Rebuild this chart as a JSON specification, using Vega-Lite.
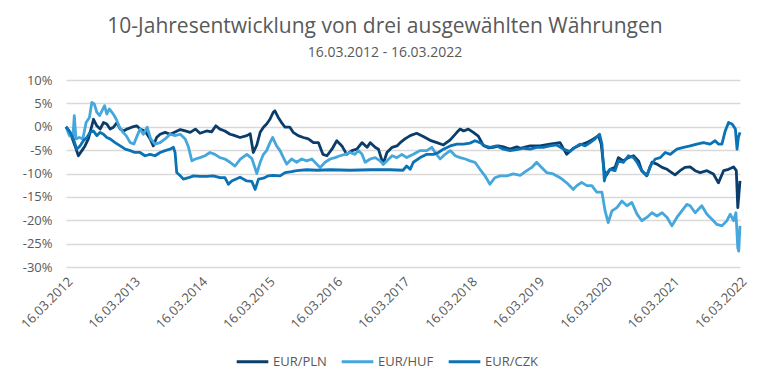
{
  "$schema": "https://vega.github.io/schema/vega-lite/v6.json",
  "width": 674,
  "height": 187,
  "autosize": {"type": "none"},
  "padding": {"left": 66, "top": 80, "right": 30, "bottom": 118},
  "background": "white",
  "title": {
    "text": "10-Jahresentwicklung von drei ausgewählten Währungen",
    "subtitle": "16.03.2012 - 16.03.2022",
    "fontSize": 21,
    "fontWeight": "normal",
    "color": "#595959",
    "subtitleFontSize": 14,
    "subtitleColor": "#595959",
    "anchor": "middle",
    "dx": -18,
    "offset": 14,
    "subtitlePadding": 9
  },
  "config": {
    "font": "Open Sans",
    "view": {"stroke": null}
  },
  "datasets": {
    "fx": [
      {"d":"2012-03-16","s":"EUR/PLN","v":0},
      {"d":"2012-04-07","s":"EUR/PLN","v":-1.2},
      {"d":"2012-05-04","s":"EUR/PLN","v":-4.1},
      {"d":"2012-05-22","s":"EUR/PLN","v":-6.2},
      {"d":"2012-06-10","s":"EUR/PLN","v":-5.1},
      {"d":"2012-06-27","s":"EUR/PLN","v":-4.1},
      {"d":"2012-07-15","s":"EUR/PLN","v":-2.6},
      {"d":"2012-08-03","s":"EUR/PLN","v":0.2},
      {"d":"2012-08-12","s":"EUR/PLN","v":1.6},
      {"d":"2012-08-30","s":"EUR/PLN","v":0.2},
      {"d":"2012-09-17","s":"EUR/PLN","v":-0.5},
      {"d":"2012-10-05","s":"EUR/PLN","v":0.9},
      {"d":"2012-10-23","s":"EUR/PLN","v":0.6},
      {"d":"2012-11-10","s":"EUR/PLN","v":-0.5},
      {"d":"2012-11-28","s":"EUR/PLN","v":-0.1},
      {"d":"2012-12-17","s":"EUR/PLN","v":0.9},
      {"d":"2013-01-04","s":"EUR/PLN","v":-0.5},
      {"d":"2013-01-22","s":"EUR/PLN","v":-0.9},
      {"d":"2013-02-09","s":"EUR/PLN","v":-0.5},
      {"d":"2013-03-07","s":"EUR/PLN","v":-0.1},
      {"d":"2013-04-03","s":"EUR/PLN","v":0.2},
      {"d":"2013-04-21","s":"EUR/PLN","v":-0.5},
      {"d":"2013-05-18","s":"EUR/PLN","v":-0.9},
      {"d":"2013-06-15","s":"EUR/PLN","v":-2.6},
      {"d":"2013-07-02","s":"EUR/PLN","v":-4.1},
      {"d":"2013-07-20","s":"EUR/PLN","v":-2.3},
      {"d":"2013-08-08","s":"EUR/PLN","v":-1.6},
      {"d":"2013-09-04","s":"EUR/PLN","v":-1.2},
      {"d":"2013-10-01","s":"EUR/PLN","v":-1.6},
      {"d":"2013-10-28","s":"EUR/PLN","v":-1.1},
      {"d":"2013-11-25","s":"EUR/PLN","v":-0.6},
      {"d":"2013-12-22","s":"EUR/PLN","v":-0.9},
      {"d":"2014-01-18","s":"EUR/PLN","v":-1.2},
      {"d":"2014-02-15","s":"EUR/PLN","v":-0.5},
      {"d":"2014-03-12","s":"EUR/PLN","v":-1.4},
      {"d":"2014-04-17","s":"EUR/PLN","v":-0.9},
      {"d":"2014-05-14","s":"EUR/PLN","v":-1.1},
      {"d":"2014-06-06","s":"EUR/PLN","v":0.2},
      {"d":"2014-06-28","s":"EUR/PLN","v":-0.5},
      {"d":"2014-07-25","s":"EUR/PLN","v":-0.9},
      {"d":"2014-08-22","s":"EUR/PLN","v":-1.6},
      {"d":"2014-09-09","s":"EUR/PLN","v":-1.8},
      {"d":"2014-10-15","s":"EUR/PLN","v":-2.3},
      {"d":"2014-11-21","s":"EUR/PLN","v":-1.9},
      {"d":"2014-12-09","s":"EUR/PLN","v":-1.5},
      {"d":"2014-12-26","s":"EUR/PLN","v":-5.5},
      {"d":"2015-01-14","s":"EUR/PLN","v":-3.9},
      {"d":"2015-02-01","s":"EUR/PLN","v":-1.2},
      {"d":"2015-02-19","s":"EUR/PLN","v":-0.1},
      {"d":"2015-03-08","s":"EUR/PLN","v":0.6},
      {"d":"2015-03-26","s":"EUR/PLN","v":1.6},
      {"d":"2015-04-13","s":"EUR/PLN","v":3.1},
      {"d":"2015-04-22","s":"EUR/PLN","v":3.4},
      {"d":"2015-05-10","s":"EUR/PLN","v":2.0},
      {"d":"2015-05-28","s":"EUR/PLN","v":0.9},
      {"d":"2015-06-16","s":"EUR/PLN","v":-0.1},
      {"d":"2015-07-12","s":"EUR/PLN","v":-0.1},
      {"d":"2015-07-30","s":"EUR/PLN","v":-1.2},
      {"d":"2015-08-26","s":"EUR/PLN","v":-1.9},
      {"d":"2015-09-23","s":"EUR/PLN","v":-2.3},
      {"d":"2015-10-20","s":"EUR/PLN","v":-2.6},
      {"d":"2015-11-17","s":"EUR/PLN","v":-3.4},
      {"d":"2015-12-14","s":"EUR/PLN","v":-3.4},
      {"d":"2016-01-07","s":"EUR/PLN","v":-5.9},
      {"d":"2016-01-29","s":"EUR/PLN","v":-6.2},
      {"d":"2016-02-25","s":"EUR/PLN","v":-4.8},
      {"d":"2016-03-22","s":"EUR/PLN","v":-3.0},
      {"d":"2016-04-19","s":"EUR/PLN","v":-4.1},
      {"d":"2016-05-15","s":"EUR/PLN","v":-5.9},
      {"d":"2016-06-12","s":"EUR/PLN","v":-5.1},
      {"d":"2016-07-09","s":"EUR/PLN","v":-4.8},
      {"d":"2016-08-06","s":"EUR/PLN","v":-3.4},
      {"d":"2016-09-02","s":"EUR/PLN","v":-4.4},
      {"d":"2016-09-20","s":"EUR/PLN","v":-3.4},
      {"d":"2016-10-16","s":"EUR/PLN","v":-4.4},
      {"d":"2016-11-03","s":"EUR/PLN","v":-4.8},
      {"d":"2016-11-28","s":"EUR/PLN","v":-8.0},
      {"d":"2016-12-19","s":"EUR/PLN","v":-5.5},
      {"d":"2017-01-16","s":"EUR/PLN","v":-4.4},
      {"d":"2017-02-11","s":"EUR/PLN","v":-4.1},
      {"d":"2017-03-01","s":"EUR/PLN","v":-3.4},
      {"d":"2017-03-27","s":"EUR/PLN","v":-2.6},
      {"d":"2017-04-24","s":"EUR/PLN","v":-1.9},
      {"d":"2017-05-29","s":"EUR/PLN","v":-1.4},
      {"d":"2017-07-04","s":"EUR/PLN","v":-2.1},
      {"d":"2017-08-10","s":"EUR/PLN","v":-2.9},
      {"d":"2017-09-16","s":"EUR/PLN","v":-3.4},
      {"d":"2017-10-21","s":"EUR/PLN","v":-3.9},
      {"d":"2017-11-27","s":"EUR/PLN","v":-2.8},
      {"d":"2018-01-02","s":"EUR/PLN","v":-1.2},
      {"d":"2018-01-20","s":"EUR/PLN","v":-0.5},
      {"d":"2018-02-07","s":"EUR/PLN","v":-0.9},
      {"d":"2018-03-05","s":"EUR/PLN","v":-0.5},
      {"d":"2018-04-01","s":"EUR/PLN","v":-1.2},
      {"d":"2018-04-28","s":"EUR/PLN","v":-2.0},
      {"d":"2018-05-25","s":"EUR/PLN","v":-4.0},
      {"d":"2018-06-22","s":"EUR/PLN","v":-4.5},
      {"d":"2018-07-18","s":"EUR/PLN","v":-4.4},
      {"d":"2018-08-15","s":"EUR/PLN","v":-4.1},
      {"d":"2018-09-11","s":"EUR/PLN","v":-4.3},
      {"d":"2018-10-17","s":"EUR/PLN","v":-4.8},
      {"d":"2018-11-23","s":"EUR/PLN","v":-4.3},
      {"d":"2018-12-11","s":"EUR/PLN","v":-4.6},
      {"d":"2019-02-03","s":"EUR/PLN","v":-4.1},
      {"d":"2019-03-28","s":"EUR/PLN","v":-4.1},
      {"d":"2019-05-21","s":"EUR/PLN","v":-3.7},
      {"d":"2019-07-15","s":"EUR/PLN","v":-3.4},
      {"d":"2019-08-20","s":"EUR/PLN","v":-5.9},
      {"d":"2019-09-25","s":"EUR/PLN","v":-4.6},
      {"d":"2019-10-31","s":"EUR/PLN","v":-3.9},
      {"d":"2019-12-07","s":"EUR/PLN","v":-3.4},
      {"d":"2020-01-12","s":"EUR/PLN","v":-2.6},
      {"d":"2020-02-08","s":"EUR/PLN","v":-1.9},
      {"d":"2020-02-23","s":"EUR/PLN","v":-3.7},
      {"d":"2020-03-10","s":"EUR/PLN","v":-9.4},
      {"d":"2020-03-20","s":"EUR/PLN","v":-10.5},
      {"d":"2020-04-11","s":"EUR/PLN","v":-9.1},
      {"d":"2020-05-08","s":"EUR/PLN","v":-8.7},
      {"d":"2020-05-26","s":"EUR/PLN","v":-6.6},
      {"d":"2020-06-22","s":"EUR/PLN","v":-7.3},
      {"d":"2020-07-19","s":"EUR/PLN","v":-6.6},
      {"d":"2020-08-16","s":"EUR/PLN","v":-6.2},
      {"d":"2020-09-12","s":"EUR/PLN","v":-7.3},
      {"d":"2020-09-30","s":"EUR/PLN","v":-9.4},
      {"d":"2020-10-27","s":"EUR/PLN","v":-10.5},
      {"d":"2020-11-24","s":"EUR/PLN","v":-7.6},
      {"d":"2020-12-21","s":"EUR/PLN","v":-8.0},
      {"d":"2021-01-18","s":"EUR/PLN","v":-8.7},
      {"d":"2021-02-14","s":"EUR/PLN","v":-9.1},
      {"d":"2021-03-03","s":"EUR/PLN","v":-9.6},
      {"d":"2021-03-29","s":"EUR/PLN","v":-10.3},
      {"d":"2021-04-25","s":"EUR/PLN","v":-9.4},
      {"d":"2021-05-22","s":"EUR/PLN","v":-8.7},
      {"d":"2021-06-19","s":"EUR/PLN","v":-8.6},
      {"d":"2021-07-16","s":"EUR/PLN","v":-9.4},
      {"d":"2021-08-12","s":"EUR/PLN","v":-9.8},
      {"d":"2021-09-18","s":"EUR/PLN","v":-9.4},
      {"d":"2021-10-23","s":"EUR/PLN","v":-10.1},
      {"d":"2021-11-19","s":"EUR/PLN","v":-12.0},
      {"d":"2021-12-17","s":"EUR/PLN","v":-9.4},
      {"d":"2022-01-13","s":"EUR/PLN","v":-9.1},
      {"d":"2022-02-09","s":"EUR/PLN","v":-8.6},
      {"d":"2022-02-24","s":"EUR/PLN","v":-9.4},
      {"d":"2022-03-04","s":"EUR/PLN","v":-17.3},
      {"d":"2022-03-16","s":"EUR/PLN","v":-11.6},

      {"d":"2012-03-16","s":"EUR/HUF","v":0},
      {"d":"2012-04-03","s":"EUR/HUF","v":-1.9},
      {"d":"2012-04-22","s":"EUR/HUF","v":-2.3},
      {"d":"2012-04-30","s":"EUR/HUF","v":2.4},
      {"d":"2012-05-09","s":"EUR/HUF","v":-2.6},
      {"d":"2012-05-27","s":"EUR/HUF","v":-2.3},
      {"d":"2012-06-15","s":"EUR/HUF","v":-2.6},
      {"d":"2012-07-03","s":"EUR/HUF","v":0.9},
      {"d":"2012-07-21","s":"EUR/HUF","v":2.0},
      {"d":"2012-08-03","s":"EUR/HUF","v":5.2},
      {"d":"2012-08-16","s":"EUR/HUF","v":4.9},
      {"d":"2012-08-30","s":"EUR/HUF","v":3.1},
      {"d":"2012-09-14","s":"EUR/HUF","v":2.4},
      {"d":"2012-09-27","s":"EUR/HUF","v":3.4},
      {"d":"2012-10-11","s":"EUR/HUF","v":4.5},
      {"d":"2012-10-23","s":"EUR/HUF","v":2.7},
      {"d":"2012-11-06","s":"EUR/HUF","v":3.8},
      {"d":"2012-11-20","s":"EUR/HUF","v":3.1},
      {"d":"2012-12-02","s":"EUR/HUF","v":2.4},
      {"d":"2012-12-17","s":"EUR/HUF","v":1.3},
      {"d":"2012-12-31","s":"EUR/HUF","v":-0.1},
      {"d":"2013-01-19","s":"EUR/HUF","v":-1.2},
      {"d":"2013-02-05","s":"EUR/HUF","v":-1.9},
      {"d":"2013-02-27","s":"EUR/HUF","v":-3.4},
      {"d":"2013-03-19","s":"EUR/HUF","v":-3.7},
      {"d":"2013-04-06","s":"EUR/HUF","v":-1.9},
      {"d":"2013-04-21","s":"EUR/HUF","v":-0.5},
      {"d":"2013-05-09","s":"EUR/HUF","v":-1.6},
      {"d":"2013-05-30","s":"EUR/HUF","v":-0.1},
      {"d":"2013-06-18","s":"EUR/HUF","v":-2.6},
      {"d":"2013-07-11","s":"EUR/HUF","v":-3.7},
      {"d":"2013-08-08","s":"EUR/HUF","v":-3.4},
      {"d":"2013-09-04","s":"EUR/HUF","v":-2.6},
      {"d":"2013-10-01","s":"EUR/HUF","v":-1.6},
      {"d":"2013-10-28","s":"EUR/HUF","v":-1.9},
      {"d":"2013-11-25","s":"EUR/HUF","v":-1.6},
      {"d":"2013-12-22","s":"EUR/HUF","v":-2.6},
      {"d":"2014-01-09","s":"EUR/HUF","v":-4.4},
      {"d":"2014-01-27","s":"EUR/HUF","v":-7.3},
      {"d":"2014-02-15","s":"EUR/HUF","v":-6.9},
      {"d":"2014-03-12","s":"EUR/HUF","v":-6.6},
      {"d":"2014-04-08","s":"EUR/HUF","v":-6.2},
      {"d":"2014-05-05","s":"EUR/HUF","v":-5.5},
      {"d":"2014-06-01","s":"EUR/HUF","v":-5.9},
      {"d":"2014-06-28","s":"EUR/HUF","v":-6.6},
      {"d":"2014-07-25","s":"EUR/HUF","v":-6.9},
      {"d":"2014-08-22","s":"EUR/HUF","v":-7.6},
      {"d":"2014-09-18","s":"EUR/HUF","v":-8.4},
      {"d":"2014-10-15","s":"EUR/HUF","v":-7.0},
      {"d":"2014-11-21","s":"EUR/HUF","v":-5.9},
      {"d":"2014-12-18","s":"EUR/HUF","v":-6.8},
      {"d":"2015-01-14","s":"EUR/HUF","v":-10.0},
      {"d":"2015-02-01","s":"EUR/HUF","v":-7.6},
      {"d":"2015-02-19","s":"EUR/HUF","v":-5.9},
      {"d":"2015-03-08","s":"EUR/HUF","v":-5.1},
      {"d":"2015-03-26","s":"EUR/HUF","v":-3.4},
      {"d":"2015-04-10","s":"EUR/HUF","v":-2.3},
      {"d":"2015-05-01","s":"EUR/HUF","v":-4.1},
      {"d":"2015-05-20","s":"EUR/HUF","v":-5.1},
      {"d":"2015-06-07","s":"EUR/HUF","v":-6.6},
      {"d":"2015-06-25","s":"EUR/HUF","v":-8.0},
      {"d":"2015-07-21","s":"EUR/HUF","v":-6.9},
      {"d":"2015-08-18","s":"EUR/HUF","v":-7.6},
      {"d":"2015-09-14","s":"EUR/HUF","v":-6.9},
      {"d":"2015-10-11","s":"EUR/HUF","v":-7.3},
      {"d":"2015-11-08","s":"EUR/HUF","v":-6.9},
      {"d":"2015-12-05","s":"EUR/HUF","v":-8.0},
      {"d":"2015-12-23","s":"EUR/HUF","v":-8.7},
      {"d":"2016-01-19","s":"EUR/HUF","v":-7.6},
      {"d":"2016-02-16","s":"EUR/HUF","v":-6.9},
      {"d":"2016-03-13","s":"EUR/HUF","v":-6.6},
      {"d":"2016-04-09","s":"EUR/HUF","v":-6.2},
      {"d":"2016-05-06","s":"EUR/HUF","v":-5.9},
      {"d":"2016-06-02","s":"EUR/HUF","v":-5.5},
      {"d":"2016-06-29","s":"EUR/HUF","v":-5.9},
      {"d":"2016-07-17","s":"EUR/HUF","v":-5.1},
      {"d":"2016-08-06","s":"EUR/HUF","v":-5.9},
      {"d":"2016-08-23","s":"EUR/HUF","v":-7.6},
      {"d":"2016-09-20","s":"EUR/HUF","v":-6.9},
      {"d":"2016-10-16","s":"EUR/HUF","v":-6.6},
      {"d":"2016-11-12","s":"EUR/HUF","v":-7.3},
      {"d":"2016-11-30","s":"EUR/HUF","v":-8.0},
      {"d":"2016-12-19","s":"EUR/HUF","v":-7.3},
      {"d":"2017-01-16","s":"EUR/HUF","v":-6.2},
      {"d":"2017-02-11","s":"EUR/HUF","v":-6.6},
      {"d":"2017-03-10","s":"EUR/HUF","v":-5.9},
      {"d":"2017-04-05","s":"EUR/HUF","v":-6.6},
      {"d":"2017-05-11","s":"EUR/HUF","v":-5.9},
      {"d":"2017-06-17","s":"EUR/HUF","v":-5.1},
      {"d":"2017-07-23","s":"EUR/HUF","v":-5.1},
      {"d":"2017-08-19","s":"EUR/HUF","v":-4.4},
      {"d":"2017-09-06","s":"EUR/HUF","v":-5.5},
      {"d":"2017-10-03","s":"EUR/HUF","v":-6.9},
      {"d":"2017-10-30","s":"EUR/HUF","v":-5.9},
      {"d":"2017-11-27","s":"EUR/HUF","v":-5.1},
      {"d":"2017-12-24","s":"EUR/HUF","v":-6.2},
      {"d":"2018-01-20","s":"EUR/HUF","v":-6.6},
      {"d":"2018-02-17","s":"EUR/HUF","v":-6.9},
      {"d":"2018-03-14","s":"EUR/HUF","v":-7.3},
      {"d":"2018-04-10","s":"EUR/HUF","v":-7.6},
      {"d":"2018-05-07","s":"EUR/HUF","v":-9.1},
      {"d":"2018-06-03","s":"EUR/HUF","v":-10.5},
      {"d":"2018-06-30","s":"EUR/HUF","v":-12.3},
      {"d":"2018-07-27","s":"EUR/HUF","v":-10.9},
      {"d":"2018-08-24","s":"EUR/HUF","v":-10.5},
      {"d":"2018-09-30","s":"EUR/HUF","v":-10.5},
      {"d":"2018-11-04","s":"EUR/HUF","v":-10.1},
      {"d":"2018-12-11","s":"EUR/HUF","v":-10.4},
      {"d":"2019-01-16","s":"EUR/HUF","v":-9.4},
      {"d":"2019-02-12","s":"EUR/HUF","v":-8.7},
      {"d":"2019-03-10","s":"EUR/HUF","v":-7.6},
      {"d":"2019-04-06","s":"EUR/HUF","v":-8.7},
      {"d":"2019-05-03","s":"EUR/HUF","v":-9.8},
      {"d":"2019-06-08","s":"EUR/HUF","v":-10.1},
      {"d":"2019-07-15","s":"EUR/HUF","v":-10.9},
      {"d":"2019-08-20","s":"EUR/HUF","v":-12.0},
      {"d":"2019-09-25","s":"EUR/HUF","v":-13.4},
      {"d":"2019-10-14","s":"EUR/HUF","v":-12.6},
      {"d":"2019-11-09","s":"EUR/HUF","v":-11.9},
      {"d":"2019-12-07","s":"EUR/HUF","v":-12.6},
      {"d":"2020-01-03","s":"EUR/HUF","v":-12.6},
      {"d":"2020-01-30","s":"EUR/HUF","v":-14.0},
      {"d":"2020-02-27","s":"EUR/HUF","v":-14.0},
      {"d":"2020-03-15","s":"EUR/HUF","v":-18.0},
      {"d":"2020-04-01","s":"EUR/HUF","v":-20.5},
      {"d":"2020-04-21","s":"EUR/HUF","v":-18.0},
      {"d":"2020-05-18","s":"EUR/HUF","v":-17.3},
      {"d":"2020-06-14","s":"EUR/HUF","v":-15.9},
      {"d":"2020-07-11","s":"EUR/HUF","v":-16.9},
      {"d":"2020-08-07","s":"EUR/HUF","v":-16.2},
      {"d":"2020-09-04","s":"EUR/HUF","v":-18.7},
      {"d":"2020-09-30","s":"EUR/HUF","v":-20.1},
      {"d":"2020-10-27","s":"EUR/HUF","v":-19.4},
      {"d":"2020-11-24","s":"EUR/HUF","v":-18.4},
      {"d":"2020-12-21","s":"EUR/HUF","v":-19.1},
      {"d":"2021-01-18","s":"EUR/HUF","v":-18.4},
      {"d":"2021-02-14","s":"EUR/HUF","v":-19.4},
      {"d":"2021-03-12","s":"EUR/HUF","v":-21.2},
      {"d":"2021-04-08","s":"EUR/HUF","v":-19.4},
      {"d":"2021-05-05","s":"EUR/HUF","v":-18.0},
      {"d":"2021-06-01","s":"EUR/HUF","v":-16.6},
      {"d":"2021-06-19","s":"EUR/HUF","v":-16.9},
      {"d":"2021-07-16","s":"EUR/HUF","v":-18.4},
      {"d":"2021-08-21","s":"EUR/HUF","v":-16.9},
      {"d":"2021-09-18","s":"EUR/HUF","v":-18.7},
      {"d":"2021-10-15","s":"EUR/HUF","v":-19.8},
      {"d":"2021-11-11","s":"EUR/HUF","v":-20.9},
      {"d":"2021-12-08","s":"EUR/HUF","v":-21.2},
      {"d":"2022-01-04","s":"EUR/HUF","v":-20.1},
      {"d":"2022-01-22","s":"EUR/HUF","v":-18.7},
      {"d":"2022-02-09","s":"EUR/HUF","v":-20.1},
      {"d":"2022-02-22","s":"EUR/HUF","v":-18.4},
      {"d":"2022-03-04","s":"EUR/HUF","v":-25.9},
      {"d":"2022-03-09","s":"EUR/HUF","v":-26.6},
      {"d":"2022-03-16","s":"EUR/HUF","v":-21.2},

      {"d":"2012-03-16","s":"EUR/CZK","v":0},
      {"d":"2012-04-07","s":"EUR/CZK","v":-1.2},
      {"d":"2012-04-25","s":"EUR/CZK","v":-2.6},
      {"d":"2012-05-13","s":"EUR/CZK","v":-4.8},
      {"d":"2012-05-31","s":"EUR/CZK","v":-4.1},
      {"d":"2012-06-18","s":"EUR/CZK","v":-3.0},
      {"d":"2012-07-07","s":"EUR/CZK","v":-2.3},
      {"d":"2012-07-24","s":"EUR/CZK","v":-1.2},
      {"d":"2012-08-12","s":"EUR/CZK","v":-0.9},
      {"d":"2012-08-30","s":"EUR/CZK","v":-1.9},
      {"d":"2012-09-17","s":"EUR/CZK","v":-1.2},
      {"d":"2012-10-05","s":"EUR/CZK","v":-1.6},
      {"d":"2012-10-23","s":"EUR/CZK","v":-2.3},
      {"d":"2012-11-10","s":"EUR/CZK","v":-2.6},
      {"d":"2012-12-07","s":"EUR/CZK","v":-3.4},
      {"d":"2013-01-04","s":"EUR/CZK","v":-4.1},
      {"d":"2013-01-31","s":"EUR/CZK","v":-4.8},
      {"d":"2013-02-27","s":"EUR/CZK","v":-5.1},
      {"d":"2013-03-24","s":"EUR/CZK","v":-5.5},
      {"d":"2013-04-21","s":"EUR/CZK","v":-5.5},
      {"d":"2013-05-18","s":"EUR/CZK","v":-6.2},
      {"d":"2013-06-15","s":"EUR/CZK","v":-5.9},
      {"d":"2013-07-11","s":"EUR/CZK","v":-6.2},
      {"d":"2013-08-08","s":"EUR/CZK","v":-5.5},
      {"d":"2013-09-04","s":"EUR/CZK","v":-5.1},
      {"d":"2013-10-01","s":"EUR/CZK","v":-4.8},
      {"d":"2013-10-19","s":"EUR/CZK","v":-4.4},
      {"d":"2013-10-28","s":"EUR/CZK","v":-5.5},
      {"d":"2013-11-06","s":"EUR/CZK","v":-9.8},
      {"d":"2013-11-25","s":"EUR/CZK","v":-10.5},
      {"d":"2013-12-12","s":"EUR/CZK","v":-11.2},
      {"d":"2014-01-09","s":"EUR/CZK","v":-10.9},
      {"d":"2014-02-05","s":"EUR/CZK","v":-10.5},
      {"d":"2014-03-12","s":"EUR/CZK","v":-10.6},
      {"d":"2014-04-17","s":"EUR/CZK","v":-10.6},
      {"d":"2014-05-23","s":"EUR/CZK","v":-10.5},
      {"d":"2014-06-28","s":"EUR/CZK","v":-10.9},
      {"d":"2014-07-25","s":"EUR/CZK","v":-10.9},
      {"d":"2014-08-13","s":"EUR/CZK","v":-12.3},
      {"d":"2014-08-31","s":"EUR/CZK","v":-11.6},
      {"d":"2014-10-15","s":"EUR/CZK","v":-10.8},
      {"d":"2014-11-21","s":"EUR/CZK","v":-11.6},
      {"d":"2014-12-18","s":"EUR/CZK","v":-11.7},
      {"d":"2015-01-05","s":"EUR/CZK","v":-13.4},
      {"d":"2015-01-23","s":"EUR/CZK","v":-11.2},
      {"d":"2015-02-19","s":"EUR/CZK","v":-11.0},
      {"d":"2015-03-17","s":"EUR/CZK","v":-10.5},
      {"d":"2015-04-13","s":"EUR/CZK","v":-10.4},
      {"d":"2015-05-20","s":"EUR/CZK","v":-10.5},
      {"d":"2015-06-16","s":"EUR/CZK","v":-9.8},
      {"d":"2015-07-21","s":"EUR/CZK","v":-9.6},
      {"d":"2015-08-18","s":"EUR/CZK","v":-9.4},
      {"d":"2015-10-11","s":"EUR/CZK","v":-9.2},
      {"d":"2015-12-05","s":"EUR/CZK","v":-9.3},
      {"d":"2016-02-16","s":"EUR/CZK","v":-9.2},
      {"d":"2016-06-02","s":"EUR/CZK","v":-9.3},
      {"d":"2016-09-20","s":"EUR/CZK","v":-9.2},
      {"d":"2017-01-06","s":"EUR/CZK","v":-9.2},
      {"d":"2017-03-16","s":"EUR/CZK","v":-9.3},
      {"d":"2017-04-05","s":"EUR/CZK","v":-8.4},
      {"d":"2017-04-24","s":"EUR/CZK","v":-9.1},
      {"d":"2017-05-11","s":"EUR/CZK","v":-7.6},
      {"d":"2017-06-17","s":"EUR/CZK","v":-6.6},
      {"d":"2017-07-23","s":"EUR/CZK","v":-5.9},
      {"d":"2017-08-28","s":"EUR/CZK","v":-5.9},
      {"d":"2017-09-24","s":"EUR/CZK","v":-5.5},
      {"d":"2017-10-21","s":"EUR/CZK","v":-4.8},
      {"d":"2017-11-27","s":"EUR/CZK","v":-4.1},
      {"d":"2018-01-02","s":"EUR/CZK","v":-3.7},
      {"d":"2018-02-07","s":"EUR/CZK","v":-3.7},
      {"d":"2018-03-14","s":"EUR/CZK","v":-3.5},
      {"d":"2018-04-10","s":"EUR/CZK","v":-3.0},
      {"d":"2018-05-07","s":"EUR/CZK","v":-3.4},
      {"d":"2018-06-03","s":"EUR/CZK","v":-4.1},
      {"d":"2018-06-30","s":"EUR/CZK","v":-4.4},
      {"d":"2018-08-05","s":"EUR/CZK","v":-4.1},
      {"d":"2018-09-11","s":"EUR/CZK","v":-4.8},
      {"d":"2018-10-17","s":"EUR/CZK","v":-5.1},
      {"d":"2018-11-23","s":"EUR/CZK","v":-4.9},
      {"d":"2018-12-29","s":"EUR/CZK","v":-4.6},
      {"d":"2019-02-03","s":"EUR/CZK","v":-4.8},
      {"d":"2019-03-10","s":"EUR/CZK","v":-4.4},
      {"d":"2019-04-15","s":"EUR/CZK","v":-4.4},
      {"d":"2019-05-21","s":"EUR/CZK","v":-4.1},
      {"d":"2019-06-27","s":"EUR/CZK","v":-3.9},
      {"d":"2019-08-02","s":"EUR/CZK","v":-4.8},
      {"d":"2019-09-07","s":"EUR/CZK","v":-5.3},
      {"d":"2019-10-04","s":"EUR/CZK","v":-4.4},
      {"d":"2019-10-31","s":"EUR/CZK","v":-3.7},
      {"d":"2019-11-28","s":"EUR/CZK","v":-4.1},
      {"d":"2019-12-25","s":"EUR/CZK","v":-3.4},
      {"d":"2020-01-21","s":"EUR/CZK","v":-2.6},
      {"d":"2020-02-14","s":"EUR/CZK","v":-1.6},
      {"d":"2020-02-27","s":"EUR/CZK","v":-3.7},
      {"d":"2020-03-11","s":"EUR/CZK","v":-11.6},
      {"d":"2020-03-20","s":"EUR/CZK","v":-10.1},
      {"d":"2020-04-11","s":"EUR/CZK","v":-9.1},
      {"d":"2020-05-08","s":"EUR/CZK","v":-9.4},
      {"d":"2020-05-26","s":"EUR/CZK","v":-7.3},
      {"d":"2020-06-22","s":"EUR/CZK","v":-7.6},
      {"d":"2020-07-19","s":"EUR/CZK","v":-6.2},
      {"d":"2020-08-16","s":"EUR/CZK","v":-6.6},
      {"d":"2020-09-04","s":"EUR/CZK","v":-7.6},
      {"d":"2020-09-30","s":"EUR/CZK","v":-9.4},
      {"d":"2020-10-27","s":"EUR/CZK","v":-10.5},
      {"d":"2020-11-15","s":"EUR/CZK","v":-8.4},
      {"d":"2020-12-12","s":"EUR/CZK","v":-6.9},
      {"d":"2021-01-08","s":"EUR/CZK","v":-6.6},
      {"d":"2021-02-04","s":"EUR/CZK","v":-5.5},
      {"d":"2021-03-03","s":"EUR/CZK","v":-5.9},
      {"d":"2021-04-08","s":"EUR/CZK","v":-4.8},
      {"d":"2021-05-14","s":"EUR/CZK","v":-4.4},
      {"d":"2021-06-19","s":"EUR/CZK","v":-4.1},
      {"d":"2021-07-25","s":"EUR/CZK","v":-3.7},
      {"d":"2021-08-30","s":"EUR/CZK","v":-3.4},
      {"d":"2021-10-05","s":"EUR/CZK","v":-3.7},
      {"d":"2021-11-01","s":"EUR/CZK","v":-3.0},
      {"d":"2021-11-19","s":"EUR/CZK","v":-3.7},
      {"d":"2021-12-08","s":"EUR/CZK","v":-3.7},
      {"d":"2021-12-26","s":"EUR/CZK","v":-0.9},
      {"d":"2022-01-13","s":"EUR/CZK","v":0.9},
      {"d":"2022-02-01","s":"EUR/CZK","v":0.6},
      {"d":"2022-02-19","s":"EUR/CZK","v":-0.5},
      {"d":"2022-02-28","s":"EUR/CZK","v":-4.8},
      {"d":"2022-03-07","s":"EUR/CZK","v":-2.3},
      {"d":"2022-03-16","s":"EUR/CZK","v":-1.2}
    ]
  },
  "data": {"name": "fx"},
  "mark": {"type": "line", "strokeWidth": 2.8, "strokeJoin": "round"},
  "encoding": {
    "x": {
      "field": "d",
      "type": "temporal",
      "scale": {
        "type": "utc",
        "domain": [
          {"year": 2012, "month": 3, "date": 16, "utc": true},
          {"year": 2022, "month": 3, "date": 16, "utc": true}
        ],
        "nice": false
      },
      "axis": {
        "title": null,
        "values": [
          {"year": 2012, "month": 3, "date": 16, "utc": true},
          {"year": 2013, "month": 3, "date": 16, "utc": true},
          {"year": 2014, "month": 3, "date": 16, "utc": true},
          {"year": 2015, "month": 3, "date": 16, "utc": true},
          {"year": 2016, "month": 3, "date": 16, "utc": true},
          {"year": 2017, "month": 3, "date": 16, "utc": true},
          {"year": 2018, "month": 3, "date": 16, "utc": true},
          {"year": 2019, "month": 3, "date": 16, "utc": true},
          {"year": 2020, "month": 3, "date": 16, "utc": true},
          {"year": 2021, "month": 3, "date": 16, "utc": true},
          {"year": 2022, "month": 3, "date": 16, "utc": true}
        ],
        "format": "%d.%m.%Y",
        "labelAngle": -45,
        "labelFontSize": 13,
        "labelColor": "#595959",
        "labelPadding": 8,
        "labelOverlap": false,
        "labelFlush": false,
        "domain": false,
        "ticks": false,
        "grid": false
      }
    },
    "y": {
      "field": "v",
      "type": "quantitative",
      "scale": {"domain": [-30, 10], "nice": false, "zero": false},
      "axis": {
        "title": null,
        "values": [-30, -25, -20, -15, -10, -5, 0, 5, 10],
        "labelExpr": "datum.value + '%'",
        "labelFontSize": 13,
        "labelColor": "#595959",
        "labelPadding": 14,
        "domain": false,
        "ticks": false,
        "grid": true,
        "gridColor": "#d9d9d9",
        "gridWidth": 1.5
      }
    },
    "color": {
      "field": "s",
      "type": "nominal",
      "sort": ["EUR/PLN", "EUR/HUF", "EUR/CZK"],
      "scale": {
        "domain": ["EUR/PLN", "EUR/HUF", "EUR/CZK"],
        "range": ["#0b3d6b", "#45a7dc", "#0a72b5"]
      },
      "legend": {
        "title": null,
        "orient": "none",
        "legendX": 169,
        "legendY": 264,
        "direction": "horizontal",
        "symbolType": "stroke",
        "symbolSize": 1000,
        "symbolStrokeWidth": 3,
        "labelFontSize": 13,
        "labelColor": "#595959",
        "labelOffset": 3,
        "columnPadding": 8
      }
    }
  }
}
